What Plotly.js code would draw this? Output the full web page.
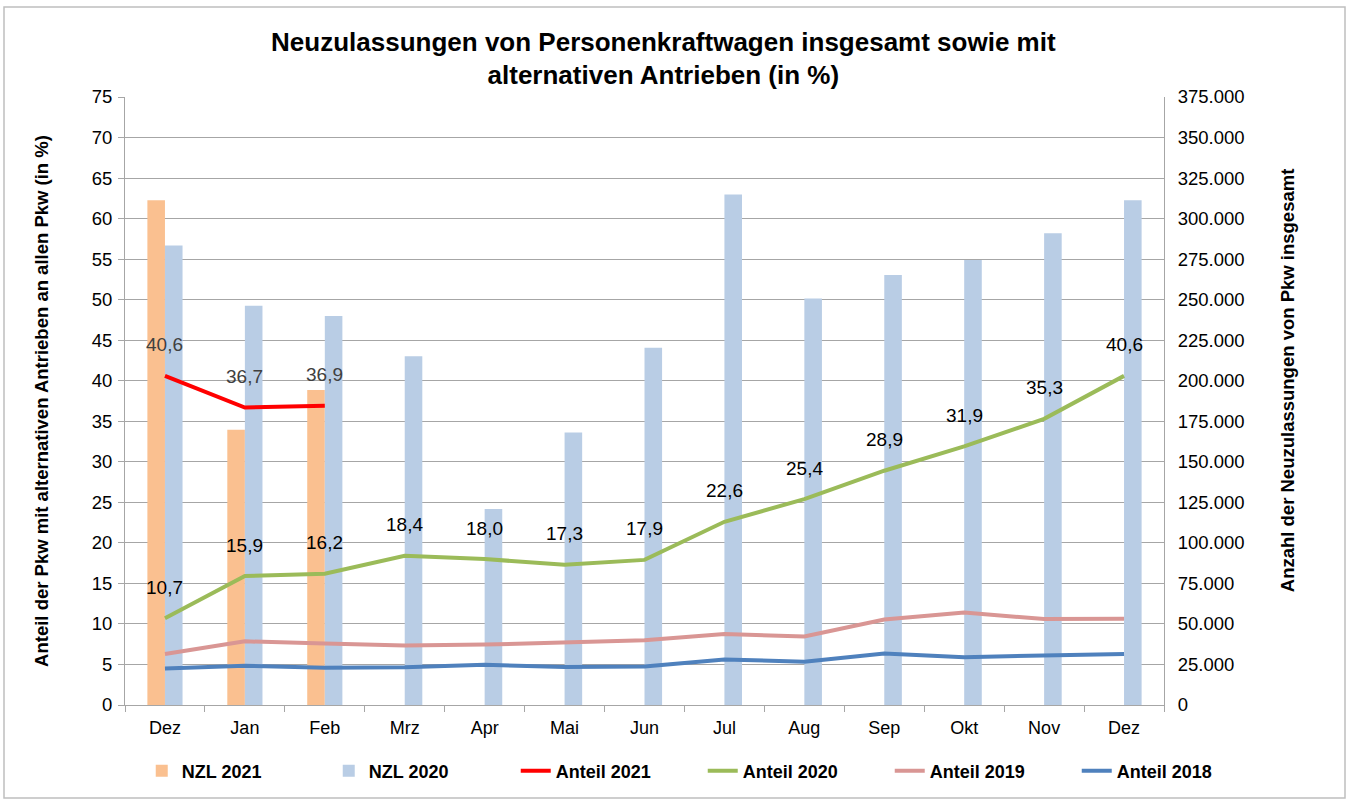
<!DOCTYPE html>
<html>
<head>
<meta charset="utf-8">
<script src="https://cdn.plot.ly/plotly-3.0.1.min.js"></script>
<style>
html,body{margin:0;padding:0;background:#fff;}
#chart{width:1351px;height:803px;}
</style>
</head>
<body>
<div id="chart"></div>
<script>
// Categories (tick labels)
var months = ["Dez","Jan","Feb","Mrz","Apr","Mai","Jun","Jul","Aug","Sep","Okt","Nov","Dez"];

// Bars: new registrations (right axis)
var nzl2021 = [311394, 169754, 194349];
var nzl2020 = [283380, 246300, 239943, 215119, 120840, 168148, 220272, 314938, 250663, 265227, 274455, 290999, 311394];

// Lines: share with alternative drives (left axis, %)
var anteil2021 = [40.6, 36.7, 36.9];
var anteil2020 = [10.7, 15.9, 16.2, 18.4, 18.0, 17.3, 17.9, 22.6, 25.4, 28.9, 31.9, 35.3, 40.6];
var anteil2019 = [6.3, 7.85, 7.6, 7.35, 7.45, 7.75, 8.0, 8.75, 8.45, 10.55, 11.4, 10.6, 10.65];
var anteil2018 = [4.5, 4.85, 4.6, 4.65, 4.95, 4.7, 4.75, 5.6, 5.35, 6.35, 5.9, 6.05, 6.3];

var legendNames = ["NZL 2021","NZL 2020","Anteil 2021","Anteil 2020","Anteil 2019","Anteil 2018"];

function idx(arr){ return arr.map(function(_, i){ return i; }); }
function fmt(v){ return v.toFixed(1).replace('.', ','); }

var grey = '#A6A6A6';
var FONT = '"Liberation Sans", Arial, sans-serif';

var traces = [
  {type:'bar', name:legendNames[0], x:idx(nzl2021), y:nzl2021, xaxis:'x', yaxis:'y',
   marker:{color:'#FAC090'}, hoverinfo:'y'},
  {type:'bar', name:legendNames[1], x:idx(nzl2020), y:nzl2020, xaxis:'x', yaxis:'y',
   marker:{color:'#B9CDE5'}, hoverinfo:'y'},
  {type:'scatter', mode:'lines', name:legendNames[2], x:idx(anteil2021), y:anteil2021, xaxis:'x2', yaxis:'y2',
   line:{color:'#FF0000', width:4}},
  {type:'scatter', mode:'lines', name:legendNames[3], x:idx(anteil2020), y:anteil2020, xaxis:'x2', yaxis:'y2',
   line:{color:'#9BBB59', width:4}},
  {type:'scatter', mode:'lines', name:legendNames[4], x:idx(anteil2019), y:anteil2019, xaxis:'x2', yaxis:'y2',
   line:{color:'#D99694', width:4}},
  {type:'scatter', mode:'lines', name:legendNames[5], x:idx(anteil2018), y:anteil2018, xaxis:'x2', yaxis:'y2',
   line:{color:'#4F81BD', width:4}}
];

var annotations = [];
anteil2021.forEach(function(v, i){
  annotations.push({xref:'x2', yref:'y2', x:i, y:v, text:fmt(v), showarrow:false,
    yshift:31, font:{family:FONT, size:19, color:'#404040'}});
});
anteil2020.forEach(function(v, i){
  annotations.push({xref:'x2', yref:'y2', x:i, y:v, text:fmt(v), showarrow:false,
    yshift:31, font:{family:FONT, size:19, color:'#000000'}});
});

var boundaries = [];
for (var b = -0.5; b <= months.length - 0.5; b += 1) boundaries.push(b);

var layout = {
  width:1351, height:803,
  margin:{l:125, r:187, t:97, b:98, pad:0},
  paper_bgcolor:'#ffffff', plot_bgcolor:'#ffffff',
  font:{family:FONT, color:'#000000', size:18},
  separators:',.',
  barmode:'group', bargap:0.56, bargroupgap:0,
  showlegend:true,
  title:{
    text:'Neuzulassungen von Personenkraftwagen insgesamt sowie mit<br>alternativen Antrieben (in %)',
    font:{family:FONT, size:26, color:'#000000', weight:'bold'},
    x:0.491, xref:'container', xanchor:'center',
    y:0.937, yref:'container', yanchor:'middle'
  },
  xaxis:{
    range:[-0.5, months.length - 0.5], tickmode:'array', tickvals:idx(months), ticktext:months,
    ticks:'', showgrid:false, zeroline:false, showline:true, linecolor:grey, linewidth:1,
    tickfont:{family:FONT, size:18, color:'#000000'}, ticklabelstandoff:6, fixedrange:true
  },
  xaxis2:{
    overlaying:'x', range:[-0.5, months.length - 0.5], tickmode:'array', tickvals:boundaries,
    ticks:'outside', ticklen:6, tickcolor:grey, tickwidth:1, showticklabels:false,
    showgrid:false, zeroline:false, showline:false
  },
  yaxis:{
    side:'right', range:[0, 375000], dtick:25000, tick0:0, tickformat:',d',
    showgrid:true, gridcolor:grey, gridwidth:1, zeroline:false,
    showline:true, linecolor:grey, linewidth:1, ticks:'', ticklabelstandoff:9,
    tickfont:{family:FONT, size:18.5, color:'#000000'},
    title:{text:'&nbsp;&nbsp;&nbsp;&nbsp;&nbsp;&nbsp;&nbsp;&nbsp;Anzahl der Neuzulassungen von Pkw insgesamt', standoff:37,
      font:{family:FONT, size:18.5, color:'#000000', weight:'bold'}}
  },
  yaxis2:{
    overlaying:'y', side:'left', range:[0, 75], dtick:5, tick0:0,
    showgrid:false, zeroline:false, showline:true, linecolor:grey, linewidth:1,
    ticks:'outside', ticklen:6, tickcolor:grey, ticklabelstandoff:2,
    tickfont:{family:FONT, size:18.5, color:'#000000'},
    title:{text:'Anteil der Pkw mit alternativen Antrieben an allen Pkw (in %)', standoff:38,
      font:{family:FONT, size:18.5, color:'#000000', weight:'bold'}}
  },
  legend:{
    orientation:'h', x:1.096, xanchor:'right', y:-0.1086, yanchor:'middle',
    font:{family:FONT, size:18, color:'#000000', weight:'bold'},
    entrywidth:142, entrywidthmode:'pixels', traceorder:'normal',
    bgcolor:'rgba(0,0,0,0)'
  },
  annotations:annotations,
  shapes:[{
    type:'rect', xref:'paper', yref:'paper',
    x0:(4-125)/1039, x1:(1345-125)/1039, y0:(705-798)/608, y1:(705-7)/608,
    line:{color:'#BFBFBF', width:1.5}, fillcolor:'rgba(0,0,0,0)', layer:'below'
  }]
};

Plotly.newPlot('chart', traces, layout, {displayModeBar:false, staticPlot:true});
</script>
</body>
</html>
